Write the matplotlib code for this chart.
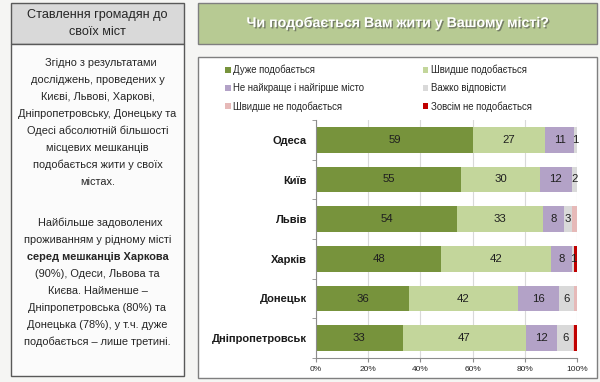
import matplotlib
matplotlib.use("Agg")
import matplotlib.pyplot as plt
import matplotlib.patches as mpatches
import matplotlib.patheffects as pe
import numpy as np

plt.rcParams['font.family'] = ['Liberation Sans', 'DejaVu Sans']

cities = ["Одеса", "Київ", "Львів", "Харків", "Донецьк", "Дніпропетровськ"]
series_names = ["Дуже подобається", "Швидше подобається",
                "Не найкраще і найгірше місто", "Важко відповісти",
                "Швидше не подобається", "Зовсім не подобається"]
very_like = [59, 55, 54, 48, 36, 33]
rather_like = [27, 30, 33, 42, 42, 47]
neutral = [11, 12, 8, 8, 16, 12]
hard_to_say = [1, 2, 3, 1, 6, 6]
rather_dislike = [0, 0, 2, 0, 1, 0.5]
dislike = [0, 0, 0, 1, 0, 1]
colors = ["#77933c", "#c3d69b", "#b3a2c7", "#d9d9d9", "#e6b9b8", "#c00000"]
labeled = [True, True, True, True, False, False]
xticks = [0, 20, 40, 60, 80, 100]
xtick_labels = ["0%", "20%", "40%", "60%", "80%", "100%"]

title = "Чи подобається Вам жити у Вашому місті?"
left_header = ["Ставлення громадян до", "своїх міст"]
para1 = ["  Згідно з результатами", "досліджень, проведених у",
         "Києві, Львові, Харкові,", "Дніпропетровську, Донецьку та",
         "Одесі абсолютній більшості", "місцевих мешканців",
         "подобається жити у своїх", "містах."]
para2 = ["  Найбільше задоволених", "проживанням у рідному місті",
         "серед мешканців Харкова", "(90%), Одеси, Львова та",
         "Києва. Найменше –", "Дніпропетровська (80%) та",
         "Донецька (78%), у т.ч. дуже", "подобається – лише третині."]
para2_bold = [False, False, True, False, False, False, False, False]

W, H = 600, 382
fig = plt.figure(figsize=(W / 100, H / 100), dpi=100)
fig.patch.set_facecolor("#f5f5f3")


def fx(x):
    return x / W


def fy(y):
    return 1 - y / H


def box(x0, y0, x1, y1, fc, ec, lw=1.0):
    r = mpatches.Rectangle((fx(x0), fy(y1)), fx(x1) - fx(x0), fy(y0) - fy(y1),
                           transform=fig.transFigure, facecolor=fc,
                           edgecolor=ec, linewidth=lw, zorder=0)
    fig.patches.append(r)


# left panel
box(11, 3, 184, 44, "#d9d9d9", "#595959", 1.0)
box(11, 44, 184, 376, "#fbfbfb", "#595959", 1.0)
for yy, line in zip([15, 32], left_header):
    fig.text(fx(97.5), fy(yy), line, ha="center", va="center",
             fontsize=9.1, color="#262626")
y = 63
for line in para1:
    fig.text(fx(97.5), fy(y), line, ha="center", va="center",
             fontsize=7.9, color="#262626")
    y += 17
y = 223
for line, b in zip(para2, para2_bold):
    fig.text(fx(97.5), fy(y), line, ha="center", va="center",
             fontsize=7.9, color="#262626",
             fontweight="bold" if b else "normal")
    y += 17

# right panel
box(198, 3, 597, 44, "#b7ca93", "#7f7f7f", 1.0)
t = fig.text(fx(397.5), fy(23), title, ha="center", va="center",
             fontsize=10.2, color="white", fontweight="bold")
t.set_path_effects([pe.SimplePatchShadow(offset=(1, -1), shadow_rgbFace="#4a4a4a", alpha=0.6),
                    pe.Normal()])
box(198, 57, 597, 378, "#ffffff", "#7f7f7f", 1.0)

# axes
ax = fig.add_axes([fx(316), fy(358), fx(577) - fx(316), fy(120) - fy(358)])
ax.set_zorder(2)
ax.set_facecolor("white")
data = np.array([very_like, rather_like, neutral, hard_to_say,
                 rather_dislike, dislike], dtype=float)
totals = data.sum(axis=0)
pct = data / totals * 100
ypos = np.arange(len(cities))
left = np.zeros(len(cities))
handles = []
for i in range(len(series_names)):
    bars = ax.barh(ypos, pct[i], left=left, height=0.65, color=colors[i],
                   label=series_names[i], zorder=2, linewidth=0)
    handles.append(bars)
    if labeled[i]:
        for j in range(len(cities)):
            v = data[i][j]
            if v >= 1:
                ax.text(left[j] + pct[i][j] / 2, ypos[j], f"{int(v)}",
                        ha="center", va="center", fontsize=8.2,
                        color="#1f1f1f", zorder=3)
    left += pct[i]

ax.set_xlim(0, 100)
ax.set_ylim(len(cities) - 0.5, -0.5)
ax.set_yticks(ypos)
ax.set_yticklabels(cities, fontsize=8.0, fontweight="bold", color="#1a1a1a")
ax.set_yticks(np.arange(-0.5, len(cities), 1), minor=True)
ax.tick_params(axis="y", which="major", length=0, pad=6.5)
ax.tick_params(axis="y", which="minor", length=3, color="#8c8c8c")
ax.set_xticks(xticks)
ax.set_xticklabels(xtick_labels, fontsize=6.0, color="#262626")
ax.tick_params(axis="x", length=3, color="#8c8c8c", pad=3)
ax.grid(axis="x", color="#d9d9d9", linewidth=0.8, zorder=0)
ax.set_axisbelow(True)
for s in ["top", "right"]:
    ax.spines[s].set_visible(False)
for s in ["left", "bottom"]:
    ax.spines[s].set_color("#8c8c8c")
    ax.spines[s].set_linewidth(0.8)

# legend (2 columns, filled row by row)
leg_order = [0, 2, 4, 1, 3, 5]
leg = fig.legend([handles[k] for k in leg_order],
                 [series_names[k] for k in leg_order],
                 ncol=2, loc="upper left",
                 bbox_to_anchor=(fx(225), fy(65)),
                 frameon=False, fontsize=6.9, handlelength=0.6,
                 handleheight=0.6, handletextpad=0.25, columnspacing=6.1,
                 labelspacing=0.82, borderaxespad=0, borderpad=0)
leg.set_zorder(3)
for txt in leg.get_texts():
    txt.set_color("#262626")

fig.savefig("out.png", dpi=100, facecolor=fig.get_facecolor())
